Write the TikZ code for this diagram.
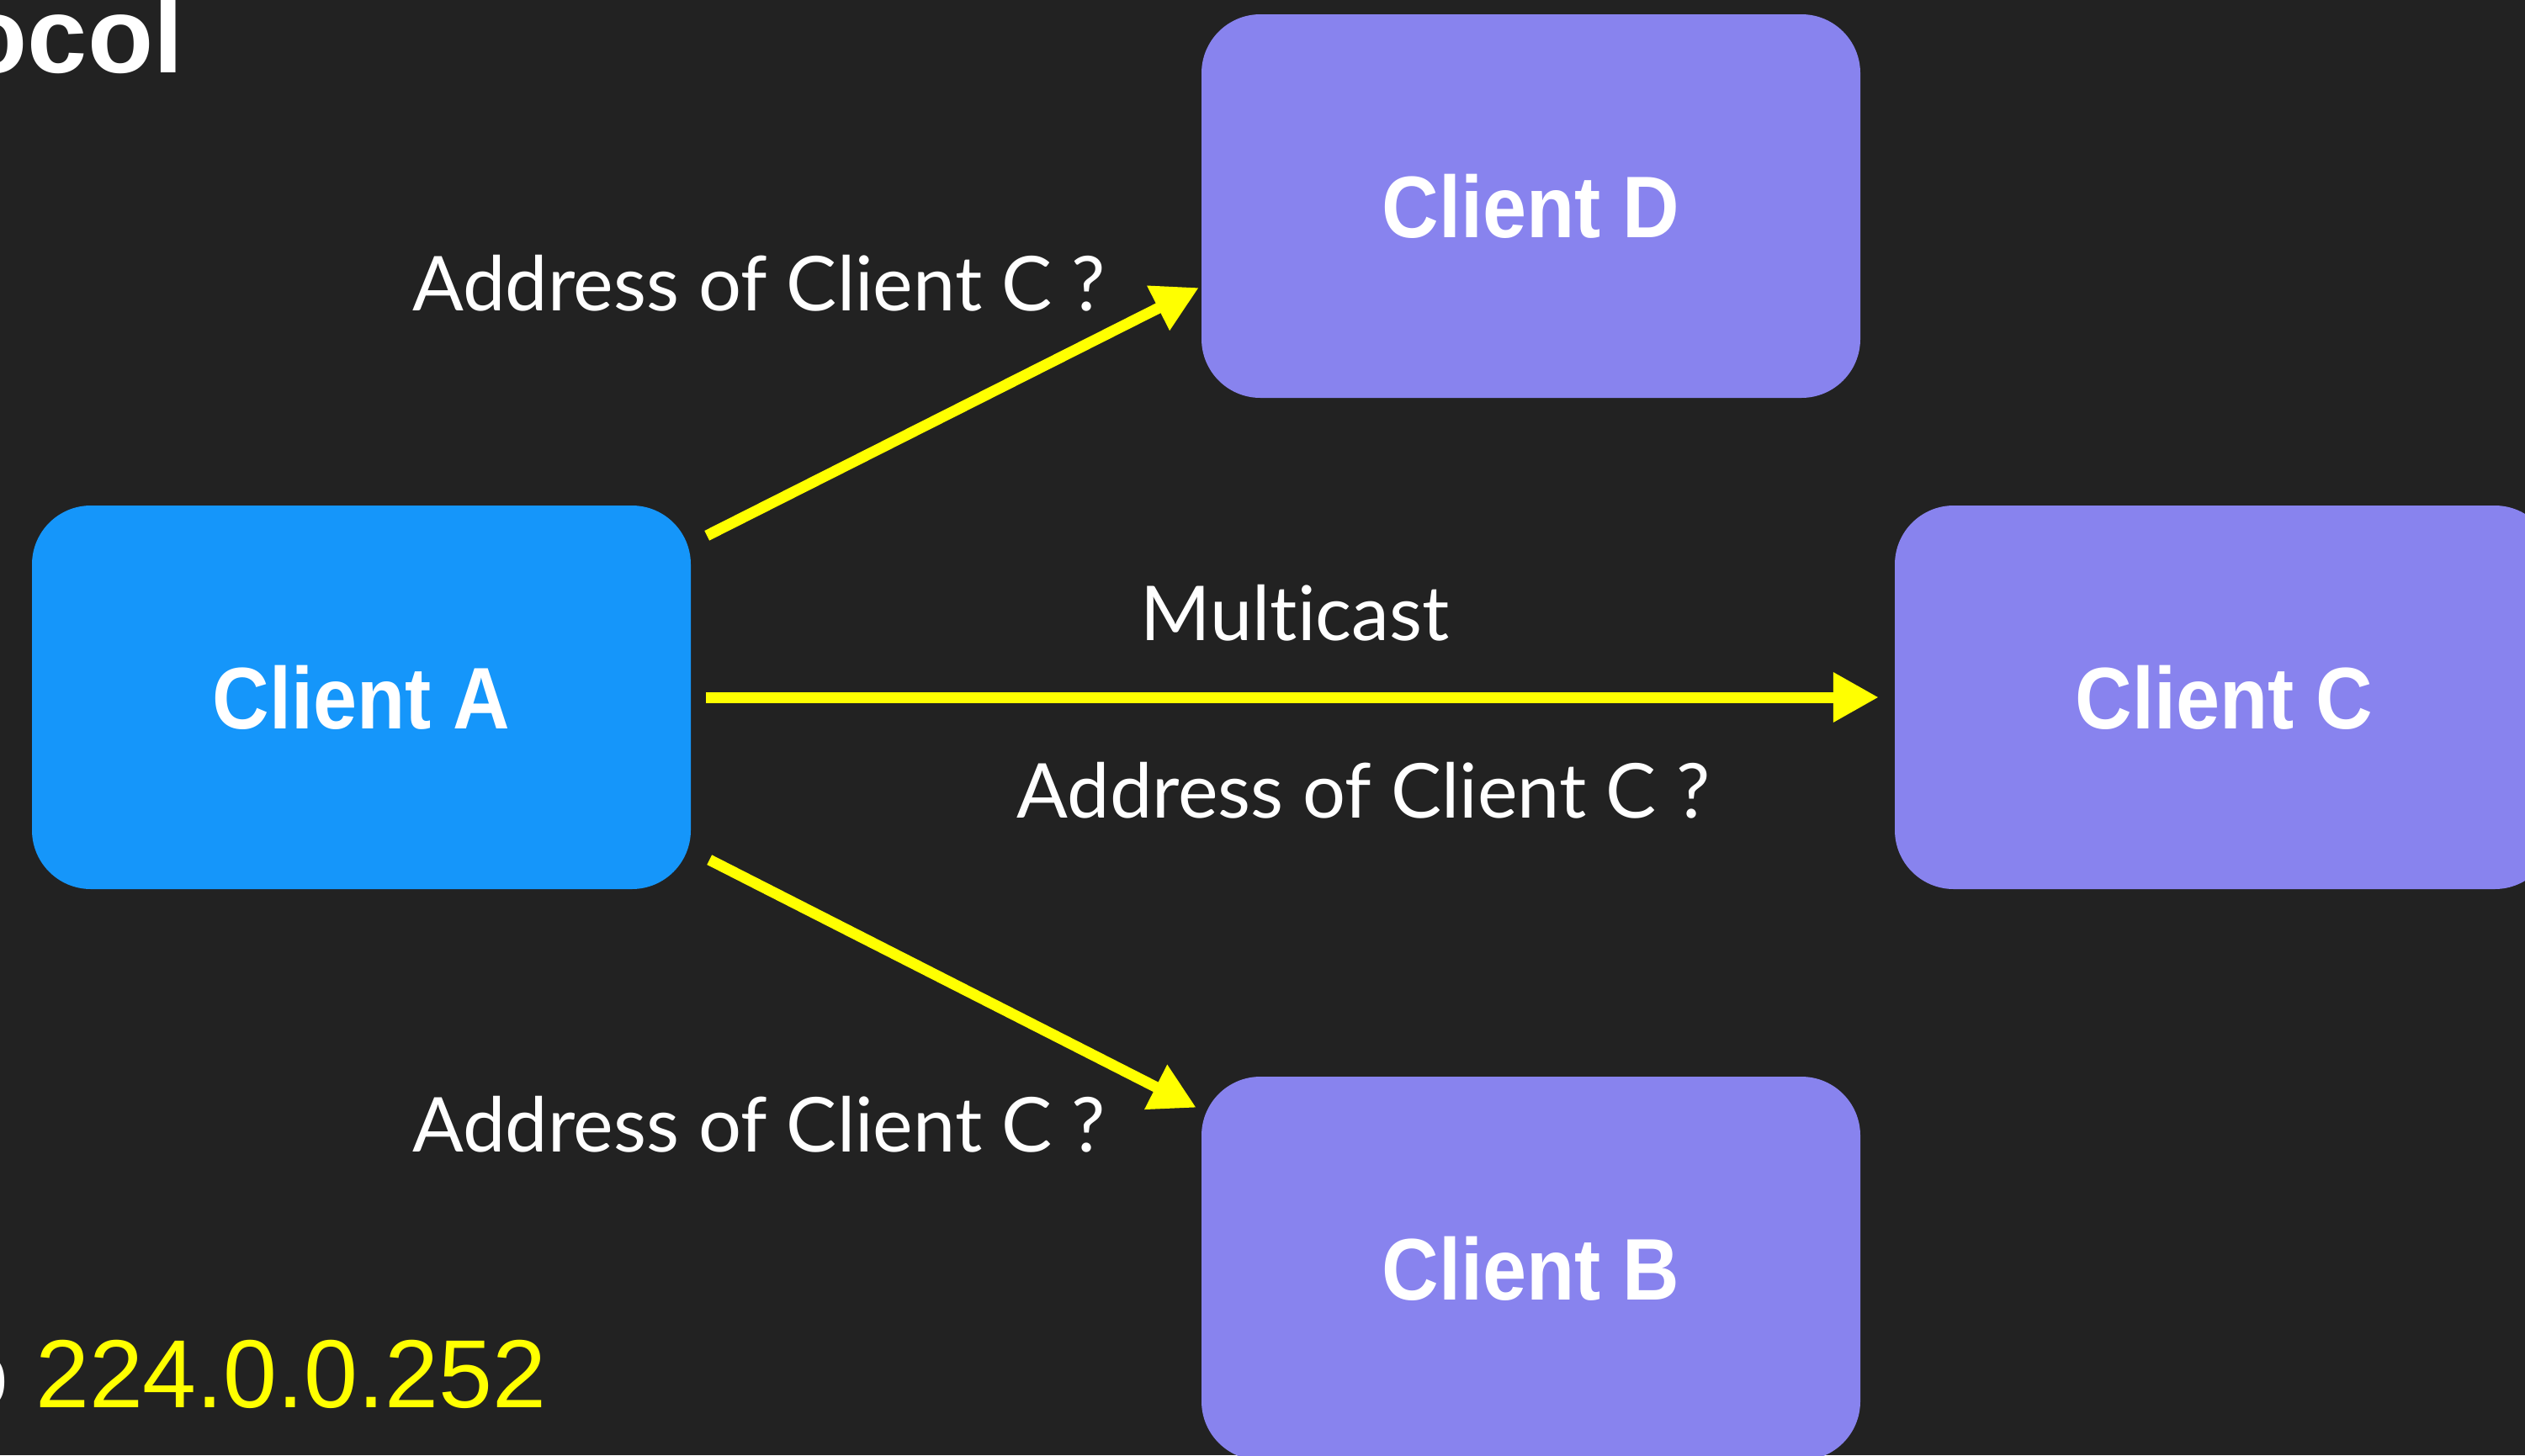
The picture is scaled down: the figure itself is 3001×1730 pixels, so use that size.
\documentclass[tikz,border=0pt]{standalone}
\usepackage{fontspec}
\setmainfont{Liberation Sans}
\newfontfamily\labelfont[Ligatures={NoCommon,NoContextual,NoRequired}]{Lato}
\newfontfamily\boxfont[FakeStretch=0.9]{Liberation Sans}
\usetikzlibrary{arrows.meta,calc}

\definecolor{slidebg}{HTML}{222222}
\definecolor{senderblue}{RGB}{21,150,250}
\definecolor{peerviolet}{RGB}{136,131,238}
\definecolor{signalyellow}{HTML}{FFFF00}

\begin{document}
\begin{tikzpicture}[x=1pt,y=-1pt,
  client/.style={rectangle, rounded corners=70pt, minimum width=783pt,
    minimum height=456pt, inner sep=0pt, text=white,
    font=\boxfont\bfseries\fontsize{104}{110}\selectfont},
  sender/.style={client, fill=senderblue},
  peer/.style={client, fill=peerviolet},
  query/.style={line width=13pt, draw=signalyellow,
    -{Triangle[length=54pt,width=56pt]}},
  msglabel/.style={text=white, inner sep=0pt, anchor=base,
    font=\labelfont\fontsize{90}{96}\selectfont}]

  % page and background
  \fill[slidebg] (0,0) rectangle (3001,1730);
  \useasboundingbox (0,0) rectangle (3001,1730);
  \clip (0,0) rectangle (3001,1730);

  % heading and multicast group address
  \node[anchor=base east, inner sep=0pt, text=white,
        font=\bfseries\fontsize{128}{130}\selectfont] (title) at (218,86) {Protocol};
  \node[anchor=base west, inner sep=0pt,
        font=\fontsize{115}{120}\selectfont] (addr) at (-54,1673)
        {{\color{white}o} \color{signalyellow}224.0.0.252};

  % hosts
  \node[sender] (A) at (429.5,829)  {Client A};
  \node[peer]   (D) at (1819.5,245) {Client D};
  \node[peer]   (C) at (2643.5,829) {Client C};
  \node[peer]   (B) at (1819.5,1508) {Client B};

  % multicast queries
  \draw[query] ($(A.north east)+(19,36)$) -- ($(D.west)+(-3,97)$);
  \draw[query] ($(A.east)+(18,0)$) -- ($(C.west)+(-19,0)$);
  \draw[query] ($(A.south east)+(22,-35)$) -- ($(B.north west)+(-6,37)$);

  % labels
  \node[msglabel] (qD) at (902,369.5)  {Address of Client C ?};
  \node[msglabel] (mc) at (1539,761)   {Multicast};
  \node[msglabel] (qC) at (1620.5,972) {Address of Client C ?};
  \node[msglabel] (qB) at (902,1369)   {Address of Client C ?};
\end{tikzpicture}
\end{document}
